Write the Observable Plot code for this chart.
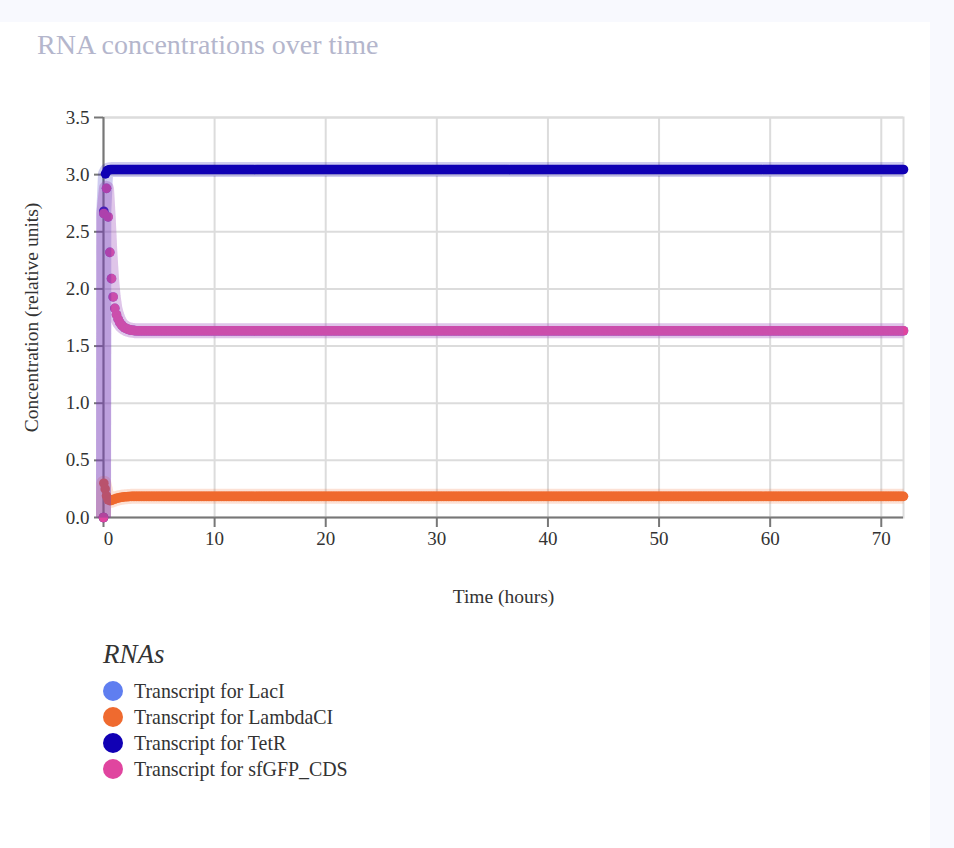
<!DOCTYPE html>
<html>
<head>
<meta charset="utf-8">
<script src="https://cdn.jsdelivr.net/npm/d3@7"></script>
<script src="https://cdn.jsdelivr.net/npm/@observablehq/plot@0.6"></script>
<style>
  html, body { margin: 0; padding: 0; background: #f8f9fe; width: 954px; height: 848px; overflow: hidden; }
  #card { position: absolute; left: 0; top: 22px; width: 930px; height: 826px; background: #ffffff; }
  #title { position: absolute; left: 37px; top: 29px; font-family: "Liberation Serif", serif; font-size: 28px; color: #b4b6cc; white-space: nowrap; }
  #chart { position: absolute; left: 0; top: 0; }
  #legend { position: absolute; left: 103px; top: 637px; font-family: "Liberation Serif", serif; color: #333; }
  #legend .lt { font-style: italic; font-size: 27px; line-height: 34px; margin-bottom: 7px; }
  #legend .it { display: flex; align-items: center; height: 26px; font-size: 19.9px; white-space: nowrap; }
  #legend .sw { width: 20px; height: 20px; border-radius: 50%; margin-right: 11px; }
</style>
</head>
<body>
<div id="card"></div>
<div id="title">RNA concentrations over time</div>
<div id="chart"></div>
<div id="legend"></div>
<script>
// ---- data ----
const seriesNames = ["Transcript for LacI", "Transcript for LambdaCI", "Transcript for TetR", "Transcript for sfGFP_CDS"];
const seriesColors = ["#5f7ef0", "#ef6a2f", "#1100b4", "#e0459f"];

const xTicks = [0, 10, 20, 30, 40, 50, 60, 70];
const yTicks = [0, 0.5, 1, 1.5, 2, 2.5, 3, 3.5];

// early transient (hours, relative units)
const lacITime   = [0, 0.03, 0.27, 0.42, 0.57, 0.72, 0.87, 1.02, 1.17, 1.32, 1.47, 1.62, 1.77, 1.92, 2.07, 2.22, 2.37, 2.52, 2.67, 2.82, 2.97];
const lacIValue  = [0, 2.66, 2.88, 2.63, 2.32, 2.09, 1.93, 1.83, 1.775, 1.735, 1.705, 1.685, 1.67, 1.66, 1.652, 1.646, 1.642, 1.639, 1.637, 1.635, 1.634];
const sfgfpTime  = [0, 0.03, 0.27, 0.42, 0.57, 0.72, 0.87, 1.02, 1.17, 1.32, 1.47, 1.62, 1.77, 1.92, 2.07, 2.22, 2.37, 2.52, 2.67, 2.82, 2.97];
const sfgfpValue = [0, 2.66, 2.88, 2.63, 2.32, 2.09, 1.93, 1.83, 1.775, 1.735, 1.705, 1.685, 1.67, 1.66, 1.652, 1.646, 1.642, 1.639, 1.637, 1.635, 1.634];
const tetRTime   = [0, 0.03, 0.18, 0.33, 0.48, 0.63, 0.78, 0.93, 1.08, 1.23, 1.38, 1.53, 1.68, 1.83, 1.98, 2.13, 2.28, 2.43, 2.58, 2.73, 2.88];
const tetRValue  = [0, 2.68, 3.007, 3.035, 3.042, 3.044, 3.045, 3.045, 3.045, 3.045, 3.045, 3.045, 3.045, 3.045, 3.045, 3.045, 3.045, 3.045, 3.045, 3.045, 3.045];
const lambdaTime  = [0, 0.03, 0.15, 0.27, 0.42, 0.57, 0.72, 0.87, 1.02, 1.17, 1.32, 1.47, 1.62, 1.77, 1.92, 2.07, 2.22, 2.37, 2.52, 2.67, 2.82, 2.97];
const lambdaValue = [0, 0.30, 0.25, 0.19, 0.155, 0.148, 0.150, 0.156, 0.162, 0.167, 0.171, 0.174, 0.177, 0.179, 0.181, 0.182, 0.183, 0.184, 0.185, 0.185, 0.185, 0.185];

// steady-state levels after the transient (flat in the picture to 72 h)
const steadyLevel = {lacI: 1.634, lambda: 0.185, tetR: 3.045, sfgfp: 1.634};
const sampleStep = 0.15;   // spacing of the solver output points (hours)
const endTime = 72;

function buildSeries(name, times, values, level) {
  const rows = times.map((t, i) => ({series: name, t, v: values[i]}));
  const last = times[times.length - 1];
  const n = Math.round((endTime - last) / sampleStep);
  for (let i = 1; i <= n; i++) rows.push({series: name, t: last + (endTime - last) * i / n, v: level});
  return rows;
}

const data = [
  ...buildSeries(seriesNames[0], lacITime, lacIValue, steadyLevel.lacI),
  ...buildSeries(seriesNames[1], lambdaTime, lambdaValue, steadyLevel.lambda),
  ...buildSeries(seriesNames[2], tetRTime, tetRValue, steadyLevel.tetR),
  ...buildSeries(seriesNames[3], sfgfpTime, sfgfpValue, steadyLevel.sfgfp)
];

const chart = Plot.plot({
  width: 954,
  height: 620,
  marginTop: 117,
  marginBottom: 103,
  marginLeft: 103,
  marginRight: 51,
  x: {domain: [0, endTime]},
  y: {domain: [0, 3.5]},
  color: {domain: seriesNames, range: seriesColors},
  style: {background: "transparent", fontFamily: "Liberation Serif, serif", fontSize: "19px", color: "#333"},
  marks: [
    Plot.gridX({ticks: xTicks, stroke: "#dcdcdc", strokeOpacity: 1, strokeWidth: 2}),
    Plot.gridY({ticks: yTicks.slice(1), stroke: "#dcdcdc", strokeOpacity: 1, strokeWidth: 2}),
    Plot.frame({stroke: "#dcdcdc", strokeWidth: 2}),
    Plot.axisX({ticks: xTicks, tickSize: 10, tickPadding: 4, stroke: "#777", strokeWidth: 2, fill: "#333", label: null, fontSize: 19,
                tickFormat: d => d === 0 ? "" : String(d)}),
    Plot.text(xTicks.slice(0, 1), {x: d => d, text: d => String(d), frameAnchor: "bottom", lineAnchor: "top", dy: 14, dx: 5, fontSize: 19, fill: "#333"}),
    Plot.axisY({ticks: yTicks, tickSize: 9, tickPadding: 5, stroke: "#777", strokeWidth: 2, fill: "#333", label: null, fontSize: 19, tickFormat: d3.format(".1f")}),
    Plot.ruleX([0], {stroke: "#777", strokeWidth: 2}),
    Plot.ruleY([0], {stroke: "#777", strokeWidth: 2}),
    Plot.dot(data, {x: "t", y: "v", fill: "series", r: 4.8}),
    Plot.line(data, {x: "t", y: "v", z: "series", stroke: "series", strokeWidth: 15, strokeOpacity: 0.2, strokeLinecap: "butt", strokeLinejoin: "round"}),
    Plot.text(["Time (hours)"], {frameAnchor: "bottom", dy: 85, fontSize: 19.5, fill: "#333"}),
    Plot.text(["Concentration (relative units)"], {frameAnchor: "left", textAnchor: "middle", dx: -72, rotate: -90, fontSize: 19.5, fill: "#333"})
  ]
});
document.getElementById("chart").appendChild(chart);

const legend = document.getElementById("legend");
const lt = document.createElement("div");
lt.className = "lt";
lt.textContent = "RNAs";
legend.appendChild(lt);
seriesNames.forEach((name, i) => {
  const it = document.createElement("div");
  it.className = "it";
  const sw = document.createElement("span");
  sw.className = "sw";
  sw.style.background = seriesColors[i];
  const tx = document.createElement("span");
  tx.textContent = name;
  it.appendChild(sw);
  it.appendChild(tx);
  legend.appendChild(it);
});
</script>
</body>
</html>
